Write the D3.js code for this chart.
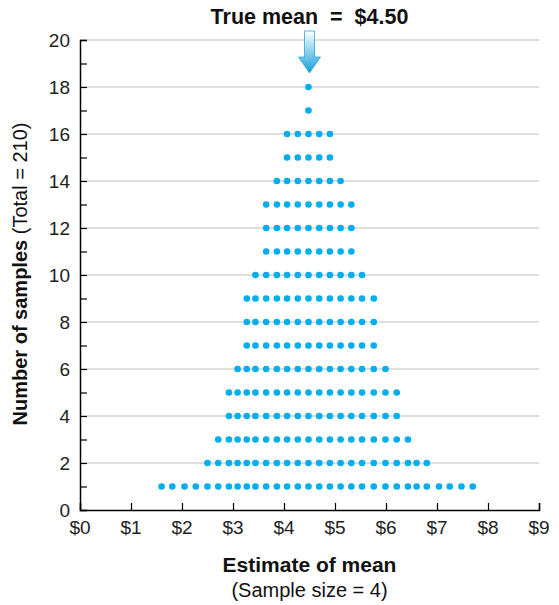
<!DOCTYPE html>
<html>
<head>
<meta charset="utf-8">
<script src="https://cdn.jsdelivr.net/npm/d3@7"></script>
<style>
  body { margin: 0; background: #fff; }
  svg { font-family: "Liberation Sans", Arial, Helvetica, sans-serif; }
</style>
</head>
<body>
<div id="chart"></div>
<script>
// Distinct sample-mean estimates ($) and how many samples gave each one
const estimates = [1.60, 1.81, 2.05, 2.27, 2.50, 2.71, 2.92, 3.09, 3.27, 3.44,
                   3.65, 3.86, 4.06, 4.27, 4.48, 4.69, 4.90, 5.11, 5.32, 5.53,
                   5.76, 5.99, 6.21, 6.43, 6.60, 6.80, 7.04, 7.25, 7.48, 7.70];
const counts =    [1, 1, 1, 1, 2, 3, 5, 6, 9, 10,
                   13, 14, 16, 16, 18, 16, 16, 14, 13, 10,
                   9, 6, 5, 3, 2, 2, 1, 1, 1, 1];
const xTicks = [0, 1, 2, 3, 4, 5, 6, 7, 8, 9];
const yTicks = [0, 2, 4, 6, 8, 10, 12, 14, 16, 18, 20];
const trueMean = 4.5;

const width = 559, height = 605;
const margin = { top: 40, right: 20, bottom: 95, left: 80 };

const svg = d3.select("#chart").append("svg")
    .attr("width", width)
    .attr("height", height);

const x = d3.scaleLinear().domain([0, 9]).range([margin.left, width - margin.right]);
const y = d3.scaleLinear().domain([0, 20]).range([height - margin.bottom, margin.top]);

// Grid lines at the even counts
svg.append("g")
    .selectAll("line")
    .data(yTicks.filter(d => d > 0))
    .join("line")
    .attr("x1", x(0)).attr("x2", x(9))
    .attr("y1", d => y(d)).attr("y2", d => y(d))
    .attr("stroke", "#bdbdbd")
    .attr("stroke-width", 1);

// Y axis (ticks point into the plot, minor ticks at odd counts)
const yAxisG = svg.append("g").attr("transform", `translate(${x(0)},0)`);
yAxisG.call(d3.axisRight(y).tickValues(d3.range(0, 21)).tickSize(7).tickFormat(""));
yAxisG.select(".domain").attr("stroke", "#000").attr("stroke-width", 1.5);
yAxisG.selectAll(".tick line").attr("stroke", "#000").attr("stroke-width", 1.2);

svg.append("g")
    .selectAll("text")
    .data(yTicks)
    .join("text")
    .attr("x", x(0) - 10)
    .attr("y", d => y(d))
    .attr("dy", "0.35em")
    .attr("text-anchor", "end")
    .attr("font-size", 19)
    .attr("fill", "#222")
    .text(d => d);

// X axis (ticks point up)
const xAxisG = svg.append("g").attr("transform", `translate(0,${y(0)})`);
xAxisG.call(d3.axisTop(x).tickValues(xTicks).tickSize(7).tickFormat(""));
xAxisG.select(".domain").attr("stroke", "#000").attr("stroke-width", 1.5);
xAxisG.selectAll(".tick line").attr("stroke", "#000").attr("stroke-width", 1.2);

svg.append("g")
    .selectAll("text")
    .data(xTicks)
    .join("text")
    .attr("x", d => x(d))
    .attr("y", y(0) + 24)
    .attr("text-anchor", "middle")
    .attr("font-size", 19)
    .attr("fill", "#222")
    .text(d => "$" + d);

// Dots: one per sample, stacked by count
const dots = [];
estimates.forEach((v, i) => {
    for (let k = 1; k <= counts[i]; k++) dots.push({ v, k });
});

svg.append("g")
    .selectAll("circle")
    .data(dots)
    .join("circle")
    .attr("cx", d => x(d.v))
    .attr("cy", d => y(d.k))
    .attr("r", 3.3)
    .attr("fill", "#00aeef");

// True mean arrow
const defs = svg.append("defs");
const grad = defs.append("linearGradient")
    .attr("id", "arrowGrad")
    .attr("x1", 0).attr("y1", 0).attr("x2", 0).attr("y2", 1);
grad.append("stop").attr("offset", "0%").attr("stop-color", "#ffffff");
grad.append("stop").attr("offset", "100%").attr("stop-color", "#129fd9");

const ax = x(trueMean);
svg.append("path")
    .attr("d", `M${ax - 5},31 L${ax + 5},31 L${ax + 5},57 L${ax + 11},57 L${ax},73 L${ax - 11},57 L${ax - 5},57 Z`)
    .attr("fill", "url(#arrowGrad)")
    .attr("stroke", "#2aa7dc")
    .attr("stroke-width", 0.8);

svg.append("text")
    .attr("x", ax)
    .attr("y", 24)
    .attr("text-anchor", "middle")
    .attr("font-size", 21.5)
    .attr("font-weight", "bold")
    .attr("fill", "#111")
    .attr("xml:space", "preserve")
    .text("True mean  =  $4.50");

// Axis titles
svg.append("text")
    .attr("x", (x(0) + x(9)) / 2)
    .attr("y", 572)
    .attr("text-anchor", "middle")
    .attr("font-size", 21)
    .attr("font-weight", "bold")
    .attr("fill", "#111")
    .text("Estimate of mean");

svg.append("text")
    .attr("x", (x(0) + x(9)) / 2)
    .attr("y", 597)
    .attr("text-anchor", "middle")
    .attr("font-size", 20)
    .attr("fill", "#111")
    .text("(Sample size = 4)");

const yTitle = svg.append("text")
    .attr("transform", `translate(27,${(y(0) + y(20)) / 2 - 1}) rotate(-90)`)
    .attr("text-anchor", "middle")
    .attr("font-size", 20)
    .attr("fill", "#111");
yTitle.append("tspan").attr("font-weight", "bold").text("Number of samples ");
yTitle.append("tspan").text("(Total = 210)");
</script>
</body>
</html>
